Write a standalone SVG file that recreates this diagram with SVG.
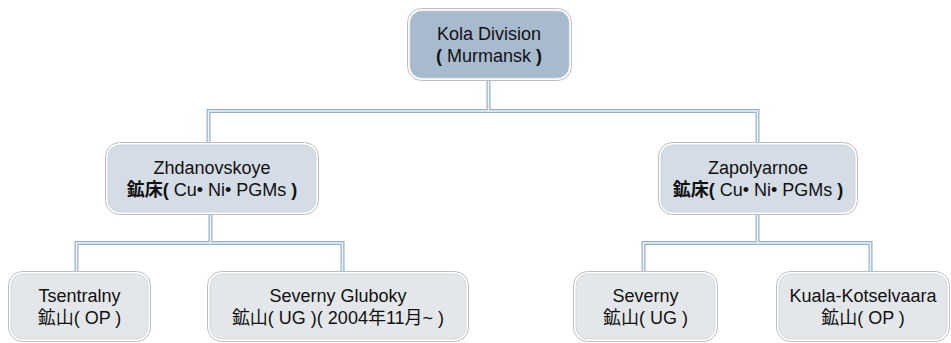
<svg xmlns="http://www.w3.org/2000/svg" width="951" height="343" viewBox="0 0 951 343">
<style>
text{font-family:"Liberation Sans","Noto Sans CJK JP",sans-serif;font-size:18px;fill:#111;text-anchor:middle}
.b{font-weight:bold}
.o{fill:#fff;stroke:#bdbdbd;stroke-width:1}
.t{fill:#a8bbce;stroke:#c3ccd6;stroke-width:0.8}
.m{fill:#d4dce6;stroke:#c8cfd7;stroke-width:0.8}
.l{fill:#e4e7ea;stroke:#cbd0d5;stroke-width:0.8}
.c1{fill:none;stroke:#93b0cf;stroke-width:4}
.c2{fill:none;stroke:#eef3f8;stroke-width:1.6}
</style>
<rect width="951" height="343" fill="#fff"/>
<g id="connectors">
<path class="c1" d="M488.5,80V111M208.5,142V111H757.5V142M210.5,214V243M76.5,271V243H342.5V271M757.5,214V243M643.5,271V243H870.5V271"/>
<path class="c2" d="M488.5,80V111M208.5,142V111H757.5V142M210.5,214V243M76.5,271V243H342.5V271M757.5,214V243M643.5,271V243H870.5V271"/>
</g>
<g id="kola">
<rect class="o" x="407.5" y="8.5" width="164" height="72" rx="14"/>
<rect class="t" x="410" y="11" width="159" height="67" rx="12"/>
<text x="489" y="39.5">Kola Division</text>
<text x="489" y="61.5"><tspan class="b">(</tspan> Murmansk <tspan class="b">)</tspan></text>
</g>
<g id="zhdanovskoye">
<rect class="o" x="105.5" y="142.5" width="213" height="72" rx="14"/>
<rect class="m" x="108" y="145" width="208" height="67" rx="12"/>
<text x="212" y="173.5">Zhdanovskoye</text>
<text x="212" y="195.5"><tspan class="b">鉱床(</tspan> Cu• Ni• PGMs <tspan class="b">)</tspan></text>
</g>
<g id="zapolyarnoe">
<rect class="o" x="658.5" y="142.5" width="199" height="72" rx="14"/>
<rect class="m" x="661" y="145" width="194" height="67" rx="12"/>
<text x="758" y="173.5">Zapolyarnoe</text>
<text x="758" y="195.5"><tspan class="b">鉱床(</tspan> Cu• Ni• PGMs <tspan class="b">)</tspan></text>
</g>
<g id="tsentralny">
<rect class="o" x="8.5" y="271.5" width="142" height="70" rx="14"/>
<rect class="l" x="11" y="274" width="137" height="65" rx="12"/>
<text x="79.5" y="301.5">Tsentralny</text>
<text x="79.5" y="323.5">鉱山( OP )</text>
</g>
<g id="severny-gluboky">
<rect class="o" x="207.5" y="271.5" width="261" height="70" rx="14"/>
<rect class="l" x="210" y="274" width="256" height="65" rx="12"/>
<text x="338" y="301.5">Severny Gluboky</text>
<text x="338" y="323.5">鉱山( UG )( 2004年11月~ )</text>
</g>
<g id="severny">
<rect class="o" x="573.5" y="271.5" width="144" height="70" rx="14"/>
<rect class="l" x="576" y="274" width="139" height="65" rx="12"/>
<text x="645.5" y="301.5">Severny</text>
<text x="645.5" y="323.5">鉱山( UG )</text>
</g>
<g id="kuala-kotselvaara">
<rect class="o" x="776.5" y="271.5" width="173" height="70" rx="14"/>
<rect class="l" x="779" y="274" width="168" height="65" rx="12"/>
<text x="863" y="301.5">Kuala-Kotselvaara</text>
<text x="863" y="323.5">鉱山( OP )</text>
</g>
</svg>
